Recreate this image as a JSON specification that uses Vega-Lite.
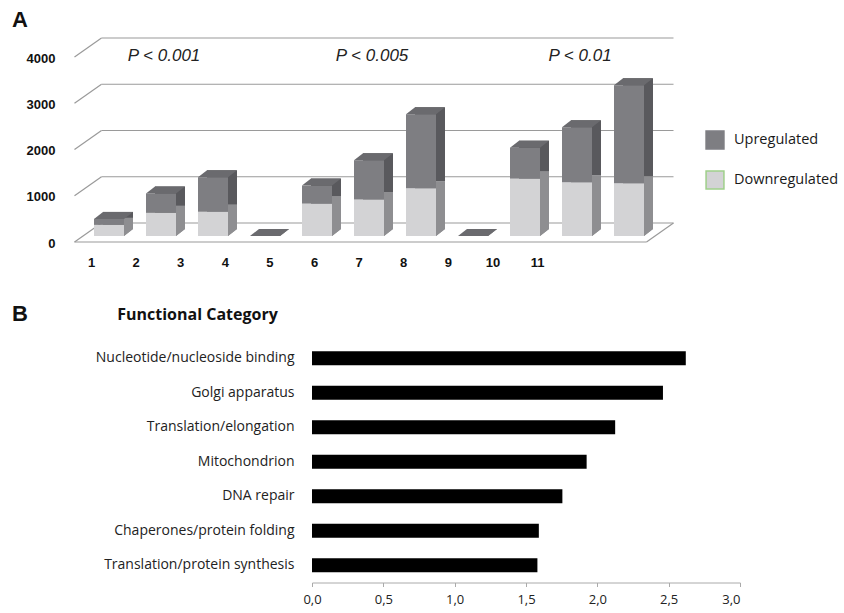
{
  "$schema": "https://vega.github.io/schema/vega-lite/v6.json",
  "background": "white",
  "padding": {"left": 12, "top": 9, "right": 5, "bottom": 5},
  "datasets": {
    "bars": [
      {"bar": 1, "type": "Downregulated", "count": 240},
      {"bar": 1, "type": "Upregulated", "count": 130},
      {"bar": 2, "type": "Downregulated", "count": 500},
      {"bar": 2, "type": "Upregulated", "count": 420},
      {"bar": 3, "type": "Downregulated", "count": 525},
      {"bar": 3, "type": "Upregulated", "count": 745},
      {"bar": 4, "type": "Downregulated", "count": 0},
      {"bar": 4, "type": "Upregulated", "count": 0},
      {"bar": 5, "type": "Downregulated", "count": 700},
      {"bar": 5, "type": "Upregulated", "count": 390},
      {"bar": 6, "type": "Downregulated", "count": 790},
      {"bar": 6, "type": "Upregulated", "count": 850},
      {"bar": 7, "type": "Downregulated", "count": 1030},
      {"bar": 7, "type": "Upregulated", "count": 1600},
      {"bar": 8, "type": "Downregulated", "count": 0},
      {"bar": 8, "type": "Upregulated", "count": 0},
      {"bar": 9, "type": "Downregulated", "count": 1240},
      {"bar": 9, "type": "Upregulated", "count": 670},
      {"bar": 10, "type": "Downregulated", "count": 1160},
      {"bar": 10, "type": "Upregulated", "count": 1190},
      {"bar": 11, "type": "Downregulated", "count": 1140},
      {"bar": 11, "type": "Upregulated", "count": 2120}
    ],
    "grid": [{"v": 0}, {"v": 1000}, {"v": 2000}, {"v": 3000}, {"v": 4000}],
    "pvals": [
      {"bar": 2, "label": "P < 0.001"},
      {"bar": 6, "label": "P < 0.005"},
      {"bar": 10, "label": "P < 0.01"}
    ],
    "categories": [
      {"category": "Nucleotide/nucleoside binding", "value": 2.62},
      {"category": "Golgi apparatus", "value": 2.46},
      {"category": "Translation/elongation", "value": 2.125},
      {"category": "Mitochondrion", "value": 1.925},
      {"category": "DNA repair", "value": 1.755},
      {"category": "Chaperones/protein folding", "value": 1.59},
      {"category": "Translation/protein synthesis", "value": 1.58}
    ]
  },
  "vconcat": [
    {
      "width": 582,
      "height": 185,
      "title": {"text": "A", "anchor": "start", "frame": "group", "dx": -66, "offset": 5, "font": "Liberation Sans", "fontSize": 22, "fontWeight": "bold", "color": "#111"},
      "layer": [
        {
          "layer": [
            {
              "data": {"name": "grid"},
              "mark": {"type": "rule", "color": "#9a9a9a", "strokeWidth": 1.2, "xOffset": 18.5, "x2Offset": 18.5, "yOffset": -13},
              "encoding": {
                "x": {"datum": 0.5, "type": "quantitative", "scale": {"domain": [0.5, 11.5], "nice": false, "zero": false}, "axis": null},
                "x2": {"datum": 11.5},
                "y": {"field": "v", "type": "quantitative", "scale": {"domain": [0, 4000], "nice": false}, "title": null,
                  "axis": {"values": [0, 1000, 2000, 3000, 4000], "format": "d", "grid": false, "domain": false, "ticks": false, "labelFont": "Liberation Sans", "labelFontWeight": "bold", "labelFontSize": 13, "labelColor": "#111", "labelPadding": 23, "labelOffset": 7}}
              }
            },
            {
              "data": {"name": "grid"},
              "mark": {"type": "rule", "color": "#9a9a9a", "strokeWidth": 1.2, "xOffset": -8.5, "x2Offset": 18.5, "yOffset": 6, "y2Offset": -13},
              "encoding": {
                "x": {"datum": 0.5, "type": "quantitative"},
                "x2": {"datum": 0.5},
                "y": {"field": "v", "type": "quantitative", "title": null},
                "y2": {"field": "v"}
              }
            },
            {
              "data": {"values": [{"v": 0}]},
              "mark": {"type": "rule", "color": "#9a9a9a", "strokeWidth": 1.2, "xOffset": -8.5, "x2Offset": -8.5, "yOffset": 6},
              "encoding": {
                "x": {"datum": 0.5, "type": "quantitative"},
                "x2": {"datum": 11.5},
                "y": {"field": "v", "type": "quantitative", "title": null}
              }
            },
            {
              "data": {"values": [{"v": 0}]},
              "mark": {"type": "rule", "color": "#9a9a9a", "strokeWidth": 1.2, "xOffset": -8.5, "x2Offset": 18.5, "yOffset": 6, "y2Offset": -13},
              "encoding": {
                "x": {"datum": 11.5, "type": "quantitative"},
                "x2": {"datum": 11.5},
                "y": {"field": "v", "type": "quantitative", "title": null},
                "y2": {"field": "v"}
              }
            },
            {
              "data": {"name": "bars"},
              "mark": {"type": "bar", "width": 30, "xOffset": 9, "yOffset": -7},
              "encoding": {
                "x": {"field": "bar", "type": "quantitative"},
                "y": {"field": "count", "type": "quantitative", "stack": "zero", "title": null},
                "detail": {"field": "type"},
                "order": {"field": "type", "sort": "ascending"},
                "color": {"condition": {"test": "datum.type === 'Upregulated'", "value": "#59595d"}, "value": "#8e8e91"}
              }
            },
            {
              "data": {"name": "bars"},
              "mark": {"type": "point", "shape": "M1,0L1,-0.467L1.6,-0.467Z", "size": 900, "filled": true, "opacity": 1, "color": "#8e8e91", "strokeWidth": 0},
              "encoding": {
                "x": {"field": "bar", "type": "quantitative"},
                "y": {"datum": 0, "type": "quantitative"}
              }
            },
            {
              "data": {"name": "bars"},
              "mark": {"type": "bar", "width": 30},
              "encoding": {
                "x": {"field": "bar", "type": "quantitative"},
                "y": {"field": "count", "type": "quantitative", "stack": "zero", "title": null},
                "order": {"field": "type", "sort": "ascending"},
                "color": {
                  "field": "type", "type": "nominal",
                  "scale": {"domain": ["Upregulated", "Downregulated"], "range": ["#7e7e82", "#d3d3d5"]},
                  "legend": {
                    "title": null, "orient": "none", "legendX": 627, "legendY": 79,
                    "symbolType": "square", "symbolSize": 320, "symbolStrokeWidth": 1.5,
                    "labelFont": "Open Sans", "labelFontSize": 14.5, "labelColor": "#1a1a1a", "labelOffset": 9,
                    "rowPadding": 16,
                    "encode": {"symbols": {"update": {"stroke": {"signal": "datum.value === 'Downregulated' ? '#9fcf8a' : '#7e7e82'"}, "opacity": {"value": 1}}}}
                  }
                }
              }
            },
            {
              "data": {"name": "bars"},
              "mark": {"type": "point", "shape": "M-1,0L1,0L1.6,-0.467L-0.4,-0.467Z", "size": 900, "filled": true, "opacity": 1, "color": "#6a6a6e", "strokeWidth": 0},
              "encoding": {
                "x": {"field": "bar", "type": "quantitative"},
                "y": {"aggregate": "sum", "field": "count", "type": "quantitative", "title": null}
              }
            },
            {
              "data": {"name": "pvals"},
              "mark": {"type": "text", "font": "Liberation Sans", "fontSize": 17, "fontStyle": "italic", "color": "#222", "dx": 3},
              "encoding": {
                "x": {"field": "bar", "type": "quantitative"},
                "y": {"datum": 3900, "type": "quantitative"},
                "text": {"field": "label"}
              }
            }
          ]
        },
        {
          "data": {"name": "bars"},
          "mark": {"type": "tick", "opacity": 0},
          "encoding": {
            "x": {"field": "bar", "type": "quantitative", "title": null,
              "scale": {"domain": [0.708, 13.757], "nice": false, "zero": false},
              "axis": {"orient": "bottom", "values": [1, 2, 3, 4, 5, 6, 7, 8, 9, 10, 11], "format": "d", "grid": false, "domain": false, "ticks": false, "labelFont": "Liberation Sans", "labelFontWeight": "bold", "labelFontSize": 13, "labelColor": "#111", "labelPadding": 20}}
          }
        }
      ],
      "resolve": {"scale": {"x": "independent"}, "axis": {"x": "independent"}}
    },
    {
      "width": 662,
      "height": 241.5,
      "title": {"text": "B", "anchor": "start", "frame": "group", "dx": -66, "offset": -20, "font": "Liberation Sans", "fontSize": 22, "fontWeight": "bold", "color": "#111"},
      "data": {"name": "categories"},
      "mark": {"type": "bar", "color": "#000"},
      "encoding": {
        "y": {"field": "category", "type": "nominal", "sort": null,
          "scale": {"paddingInner": 0.6, "paddingOuter": 0.3},
          "title": "Functional Category",
          "axis": {"domain": false, "ticks": false, "grid": false, "labelFont": "Open Sans", "labelFontSize": 14, "labelColor": "#222", "labelAlign": "right", "labelPadding": -216, "labelLimit": 300, "labelBound": false,
            "titleAngle": 0, "titleX": 119, "titleY": -22, "titleAlign": "center", "titleBaseline": "alphabetic", "titleFont": "Open Sans", "titleFontSize": 16, "titleFontWeight": "bold", "titleColor": "#111"}},
        "x": {"field": "value", "type": "quantitative", "title": null,
          "scale": {"domain": [-1.6402, 3], "nice": false, "zero": false},
          "axis": {"values": [0, 0.5, 1, 1.5, 2, 2.5, 3], "labelExpr": "replace(format(datum.value, '.1f'), '.', ',')", "grid": false, "domainColor": "#aaa", "domainDash": [0, 234, 428, 0], "tickColor": "#aaa", "tickSize": 4, "labelPadding": 7, "labelFont": "Open Sans", "labelFontSize": 13, "labelColor": "#222"}}
      }
    }
  ],
  "spacing": 34,
  "config": {"view": {"stroke": null}, "axis": {"grid": false}}
}
